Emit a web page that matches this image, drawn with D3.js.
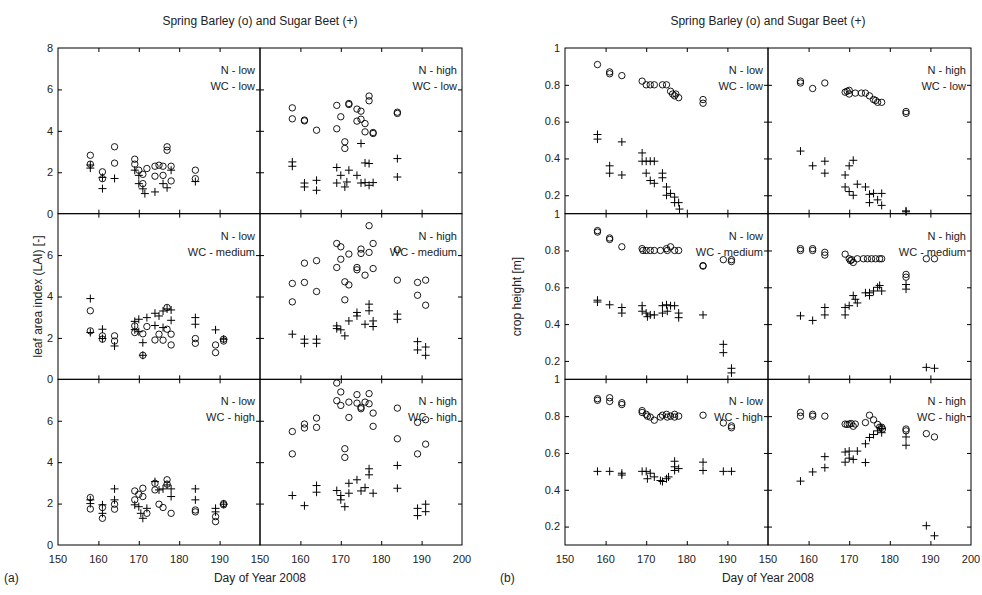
<!DOCTYPE html>
<html>
<head>
<meta charset="utf-8">
<script src="https://cdn.jsdelivr.net/npm/d3@7"></script>
<style>
  body { margin: 0; background: #fff; }
  svg { display: block; font-family: "Liberation Sans", Arial, sans-serif; }
</style>
</head>
<body>
<div id="chart"></div>
<script>
// ---- data: [day of year, value] ----
const dayTicks = [150, 160, 170, 180, 190, 200];
const laiTicks = [0, 2, 4, 6, 8];
const heightTicks = [0.2, 0.4, 0.6, 0.8, 1];
const nLabels = ['N - low', 'N - high'];
const wcLabels = ['WC - low', 'WC - medium', 'WC - high'];

// (a) leaf area index
const laiBarleyNLowWcLow = [[158,2.82],[158,2.39],[161,2.02],[161,1.69],[164,3.23],[164,2.44],[169,2.63],[169,2.39],[170,2.1],[171,1.9],[171,1.45],[172,2.18],[174,2.29],[175,2.34],[174,1.81],[176,2.29],[176,1.85],[177,3.23],[177,3.06],[178,2.29],[178,1.58],[184,2.1],[184,1.69]];
const laiBeetNLowWcLow = [[158,2.35],[158,2.2],[161,1.21],[161,1.75],[164,1.7],[169,2.1],[170,1.85],[170,1.45],[171,1.2],[171.5,0.97],[174,1.05],[176,1.45],[177,1.25],[178,2.1],[184,1.55]];
const laiBarleyNHighWcLow = [[158,5.11],[158,4.58],[161,4.52],[161,4.48],[164,4.03],[169,5.23],[169,4.1],[170,4.68],[171,3.47],[171,3.15],[172,5.32],[172,5.27],[174,5.05],[174,4.47],[175,4.95],[175,4.56],[176,4.35],[176,3.95],[177,5.68],[177,5.45],[178,3.92],[178,3.87],[184,4.9],[184,4.84]];
const laiBeetNHighWcLow = [[158,2.5],[158,2.29],[161,1.48],[161,1.29],[164,1.61],[164,1.13],[169,2.23],[169,1.48],[170,1.85],[171,1.29],[172,2.1],[171.5,1.53],[174,1.85],[175,1.48],[175,3.39],[176,2.45],[177,2.42],[176,1.5],[177,1.37],[178,1.5],[184,2.66],[184,1.77]];
const laiBarleyNLowWcMed = [[158,3.31],[158,2.34],[161,2.1],[161,1.94],[164,2.1],[164,1.85],[169,2.58],[169,2.26],[171,1.16],[172,2.55],[171,2.2],[174,1.9],[175,2.18],[176,1.89],[177,3.47],[177,2.42],[178,2.18],[178,1.66],[184,1.97],[184,1.74],[189,1.66],[189,1.29],[191,1.94],[191,1.85]];
const laiBeetNLowWcMed = [[158,3.9],[158,2.26],[161,2.42],[161,1.97],[164,1.61],[169,2.8],[169,2.4],[170,2.9],[170,2.3],[172,2.98],[174,3.19],[174,2.6],[175,3.06],[176,3.3],[176,2.5],[177,3.4],[178,2.85],[178,3.35],[171,1.16],[171,1.77],[184,2.98],[184,2.66],[189,2.39],[191,1.94]];
const laiBarleyNHighWcMed = [[158,4.63],[158,3.74],[161,5.61],[161,4.68],[164,5.73],[164,4.24],[169,6.56],[169,5.4],[170,6.4],[170,5.8],[171,4.71],[171,3.84],[172,6.05],[172,4.56],[174,5.4],[174,5.29],[175,6.29],[175,6.08],[176,5.03],[177,7.42],[177,6.13],[178,6.56],[178,5.35],[184,6.26],[184,4.79],[189,4.68],[189,4.06],[191,4.79],[191,3.58]];
const laiBeetNHighWcMed = [[158,2.18],[161,1.94],[161,1.74],[164,1.94],[164,1.74],[169,2.58],[169,2.45],[170,2.39],[171,2.1],[172,2.82],[174,3.23],[174,3.06],[176,2.66],[177,3.63],[177,3.31],[178,2.82],[178,2.55],[184,3.15],[184,2.9],[189,1.82],[189,1.42],[191,1.56],[191,1.16]];
const laiBarleyNLowWcHigh = [[158,2.29],[158,1.74],[161,1.81],[161,1.29],[164,1.97],[164,1.73],[169,2.61],[169,2.18],[170,2.45],[171,2.74],[171,2.34],[172,1.53],[174,2.98],[174,2.66],[175,1.97],[176,1.81],[177,3.15],[177,2.94],[178,1.53],[184,1.69],[184,1.6],[189,1.37],[189,1.13],[191,2.0],[191,1.94]];
const laiBeetNLowWcHigh = [[158,2.18],[158,2.0],[161,1.94],[161,1.53],[164,2.71],[164,2.18],[169,1.94],[170,1.85],[170.5,1.53],[171,1.29],[172,1.77],[174,3.06],[175,2.66],[176,2.71],[177,2.9],[178,2.71],[178,2.34],[184,2.71],[184,2.18],[189,1.77],[189,1.6],[191,1.97]];
const laiBarleyNHighWcHigh = [[158,5.48],[158,4.4],[161,5.84],[161,5.65],[164,6.13],[164,5.68],[169,7.82],[169,6.97],[170,7.39],[170,6.74],[171,4.65],[171,4.23],[172,6.9],[172,6.16],[174,7.26],[174,6.85],[175,6.65],[175,6.58],[176,6.9],[177,7.31],[177,6.82],[178,6.37],[178,5.73],[184,6.61],[184,5.13],[189,5.92],[189,4.4],[191,6.05],[191,4.87]];
const laiBeetNHighWcHigh = [[158,2.39],[161,1.9],[164,2.87],[164,2.55],[169,2.63],[170,2.39],[170,2.18],[171,1.85],[172,2.98],[172,2.5],[174,3.15],[175,2.61],[176,2.77],[177,3.68],[177,3.39],[178,2.5],[184,3.84],[184,2.74],[189,1.77],[189,1.42],[191,1.97],[191,1.61]];

// (b) crop height
const hBarleyNLowWcLow = [[158,0.91],[161,0.87],[161,0.86],[164,0.85],[169,0.82],[170,0.80],[171,0.80],[172,0.80],[174,0.80],[175,0.80],[176,0.765],[176.5,0.75],[177,0.74],[177.3,0.75],[178,0.73],[184,0.72],[184,0.70]];
const hBeetNLowWcLow = [[158,0.53],[158,0.505],[161,0.36],[161,0.32],[164,0.49],[164,0.31],[169,0.43],[169,0.385],[170,0.385],[171,0.385],[172,0.385],[170,0.32],[171,0.28],[172,0.265],[174,0.32],[174,0.295],[175,0.245],[175,0.2],[176,0.21],[177,0.19],[177,0.16],[178,0.16],[178.2,0.125]];
const hBarleyNHighWcLow = [[158,0.82],[158,0.81],[161,0.78],[164,0.81],[169,0.76],[169.5,0.765],[170,0.75],[170,0.77],[171.5,0.755],[173,0.755],[174,0.755],[175,0.74],[176,0.72],[176.5,0.715],[177,0.705],[178,0.705],[184,0.655],[184,0.645]];
const hBeetNHighWcLow = [[158,0.44],[161,0.36],[164,0.385],[164,0.32],[169,0.31],[170,0.36],[171,0.39],[169,0.245],[170,0.22],[171,0.2],[172,0.26],[174,0.245],[175,0.205],[176,0.21],[178,0.21],[175,0.16],[177,0.175],[178,0.145],[184,0.115],[184,0.11]];
const hBarleyNLowWcMed = [[158,0.908],[158,0.9],[161,0.868],[161,0.86],[164,0.82],[169,0.81],[169.2,0.80],[170,0.80],[171,0.80],[172,0.80],[173.5,0.80],[175,0.81],[175.2,0.80],[176,0.82],[177,0.80],[178,0.80],[184,0.715],[184,0.718],[189,0.75],[191,0.75],[191,0.74]];
const hBeetNLowWcMed = [[158,0.53],[158,0.52],[161,0.505],[164,0.49],[164,0.46],[169,0.5],[169,0.47],[170,0.46],[170.3,0.44],[171,0.45],[172,0.45],[174,0.5],[174,0.46],[175,0.505],[175.2,0.47],[176,0.5],[177,0.5],[178,0.46],[178,0.435],[184,0.45],[189,0.29],[189,0.245],[191,0.16],[191,0.135]];
const hBarleyNHighWcMed = [[158,0.81],[158,0.80],[161,0.81],[161,0.80],[164,0.79],[164,0.775],[169,0.78],[170,0.755],[170.3,0.745],[170.6,0.75],[171,0.735],[172,0.755],[173.5,0.755],[174.5,0.755],[175.5,0.755],[176.5,0.755],[177.5,0.755],[178,0.755],[184,0.67],[184,0.655],[189,0.755],[191,0.755]];
const hBeetNHighWcMed = [[158,0.445],[161,0.42],[164,0.49],[164,0.45],[169,0.49],[169,0.45],[170,0.5],[171,0.555],[171.5,0.535],[172,0.515],[174,0.57],[175,0.555],[175,0.57],[176,0.58],[177,0.6],[177.5,0.61],[178,0.58],[184,0.615],[184,0.59],[189,0.165],[191,0.16]];
const hBarleyNLowWcHigh = [[158,0.895],[158,0.886],[161,0.9],[161,0.88],[164,0.873],[164,0.863],[169,0.83],[169,0.82],[170,0.81],[170.3,0.80],[171,0.795],[172,0.778],[173.5,0.795],[174,0.805],[175,0.81],[175.2,0.795],[176,0.80],[177,0.81],[177,0.795],[178,0.80],[184,0.805],[189,0.763],[191,0.747],[191,0.737]];
const hBeetNLowWcHigh = [[158,0.5],[161,0.5],[164,0.49],[164,0.48],[169,0.5],[170,0.5],[170.3,0.46],[171,0.49],[172,0.47],[173.5,0.45],[174,0.445],[175,0.46],[175.5,0.47],[177,0.555],[177,0.525],[177,0.505],[178,0.515],[184,0.55],[184,0.505],[189,0.5],[191,0.5]];
const hBarleyNHighWcHigh = [[158,0.82],[158,0.80],[161,0.81],[161,0.80],[164,0.80],[169,0.757],[169.5,0.755],[170,0.757],[170.5,0.76],[171.5,0.757],[171,0.745],[174,0.765],[175,0.805],[176,0.78],[177,0.755],[177.5,0.74],[178,0.74],[178.2,0.73],[184,0.73],[184,0.72],[189,0.705],[191,0.687]];
const hBeetNHighWcHigh = [[158,0.447],[161,0.497],[164,0.58],[164,0.52],[169,0.605],[169,0.55],[170,0.61],[170,0.572],[171,0.565],[172,0.61],[174,0.65],[174,0.548],[175,0.684],[176,0.7],[177,0.72],[178,0.733],[178,0.71],[184,0.687],[184,0.642],[189,0.205],[191,0.15]];

// ---- layout ----
const W = 982, H = 595;
const plotTop = 48, plotBottom = 545;
const rowH = (plotBottom - plotTop) / 3;
const figs = [
  {left: 58, colW: 202, domain: [0, 8], ticks: laiTicks, ylabel: 'leaf area index (LAI) [-]', tag: '(a)',
   panels: [
     [[laiBarleyNLowWcLow, laiBeetNLowWcLow], [laiBarleyNHighWcLow, laiBeetNHighWcLow]],
     [[laiBarleyNLowWcMed, laiBeetNLowWcMed], [laiBarleyNHighWcMed, laiBeetNHighWcMed]],
     [[laiBarleyNLowWcHigh, laiBeetNLowWcHigh], [laiBarleyNHighWcHigh, laiBeetNHighWcHigh]]
   ]},
  {left: 565, colW: 203, domain: [0.1, 1], ticks: heightTicks, ylabel: 'crop height [m]', tag: '(b)',
   panels: [
     [[hBarleyNLowWcLow, hBeetNLowWcLow], [hBarleyNHighWcLow, hBeetNHighWcLow]],
     [[hBarleyNLowWcMed, hBeetNLowWcMed], [hBarleyNHighWcMed, hBeetNHighWcMed]],
     [[hBarleyNLowWcHigh, hBeetNLowWcHigh], [hBarleyNHighWcHigh, hBeetNHighWcHigh]]
   ]}
];

const svg = d3.select('#chart').append('svg')
  .attr('width', W).attr('height', H);

const ink = '#000';
const textCol = '#222';

figs.forEach((fig, fi) => {
  const cx = fig.left + fig.colW;

  svg.append('text')
    .attr('x', cx).attr('y', 25)
    .attr('text-anchor', 'middle')
    .attr('font-size', 12).attr('fill', textCol)
    .text('Spring Barley (o) and Sugar Beet (+)');

  svg.append('text')
    .attr('x', cx).attr('y', 582)
    .attr('text-anchor', 'middle')
    .attr('font-size', 12).attr('fill', textCol)
    .text('Day of Year 2008');

  svg.append('text')
    .attr('x', fi === 0 ? 4 : 500).attr('y', 582)
    .attr('font-size', 12).attr('fill', textCol)
    .text(fig.tag);

  svg.append('text')
    .attr('transform', `translate(${fig.left - (fi === 0 ? 16 : 44)}, ${(plotTop + plotBottom) / 2}) rotate(-90)`)
    .attr('text-anchor', 'middle')
    .attr('font-size', 12).attr('fill', textCol)
    .text(fig.ylabel);

  fig.panels.forEach((row, ri) => {
    row.forEach((series, ci) => {
      const x0 = fig.left + ci * fig.colW;
      const y0 = plotTop + ri * rowH;
      const g = svg.append('g').attr('transform', `translate(${x0},${y0})`);

      const x = d3.scaleLinear().domain([150, 200]).range([0, fig.colW]);
      const y = d3.scaleLinear().domain(fig.domain).range([rowH, 0]);

      // inward ticks on all four sides
      const yTickVals = fig.ticks.filter(t => t > fig.domain[0] && t < fig.domain[1]);
      const xTickVals = dayTicks.filter(t => t > 150 && t < 200);

      const axL = g.append('g').call(d3.axisLeft(y).tickValues(yTickVals).tickSize(-4).tickSizeOuter(0).tickFormat(''));
      const axR = g.append('g').attr('transform', `translate(${fig.colW},0)`)
        .call(d3.axisRight(y).tickValues(yTickVals).tickSize(-4).tickSizeOuter(0).tickFormat(''));
      const axT = g.append('g').call(d3.axisTop(x).tickValues(xTickVals).tickSize(-4).tickSizeOuter(0).tickFormat(''));
      const axB = g.append('g').attr('transform', `translate(0,${rowH})`)
        .call(d3.axisBottom(x).tickValues(xTickVals).tickSize(-4).tickSizeOuter(0).tickFormat(''));
      [axL, axR, axT, axB].forEach(a => {
        a.select('.domain').remove();
        a.selectAll('line').attr('stroke', ink);
      });

      g.append('rect')
        .attr('width', fig.colW).attr('height', rowH)
        .attr('fill', 'none').attr('stroke', ink).attr('stroke-width', 1);

      // y tick labels on left column
      if (ci === 0) {
        let labels;
        if (fi === 0) {
          labels = ri === 0 ? laiTicks : laiTicks.filter(t => t < 8);
        } else {
          labels = heightTicks;
        }
        g.append('g').selectAll('text').data(labels).join('text')
          .attr('x', -5).attr('y', d => y(d)).attr('dy', '0.35em')
          .attr('text-anchor', 'end')
          .attr('font-size', 11).attr('fill', textCol)
          .text(d => d3.format('')(d));
      }

      // x tick labels on bottom row
      if (ri === 2) {
        const labels = ci === 0 ? dayTicks.filter(t => t < 200) : dayTicks;
        g.append('g').selectAll('text').data(labels).join('text')
          .attr('x', d => x(d)).attr('y', rowH + 18)
          .attr('text-anchor', 'middle')
          .attr('font-size', 11).attr('fill', textCol)
          .text(d => d);
      }

      // panel labels
      g.append('text')
        .attr('x', fig.colW - 5).attr('y', 26)
        .attr('text-anchor', 'end')
        .attr('font-size', 11).attr('fill', textCol)
        .text(nLabels[ci]);
      g.append('text')
        .attr('x', fig.colW - 5).attr('y', 42)
        .attr('text-anchor', 'end')
        .attr('font-size', 11).attr('fill', textCol)
        .text(wcLabels[ri]);

      const [barley, beet] = series;

      g.append('g').selectAll('circle').data(barley).join('circle')
        .attr('cx', d => x(d[0])).attr('cy', d => y(d[1]))
        .attr('r', 3.2)
        .attr('fill', 'none').attr('stroke', ink).attr('stroke-width', 0.9);

      g.append('g').selectAll('path').data(beet).join('path')
        .attr('transform', d => `translate(${x(d[0])},${y(d[1])})`)
        .attr('d', 'M-4,0H4M0,-4V4')
        .attr('stroke', ink).attr('stroke-width', 1);
    });
  });
});
</script>
</body>
</html>
